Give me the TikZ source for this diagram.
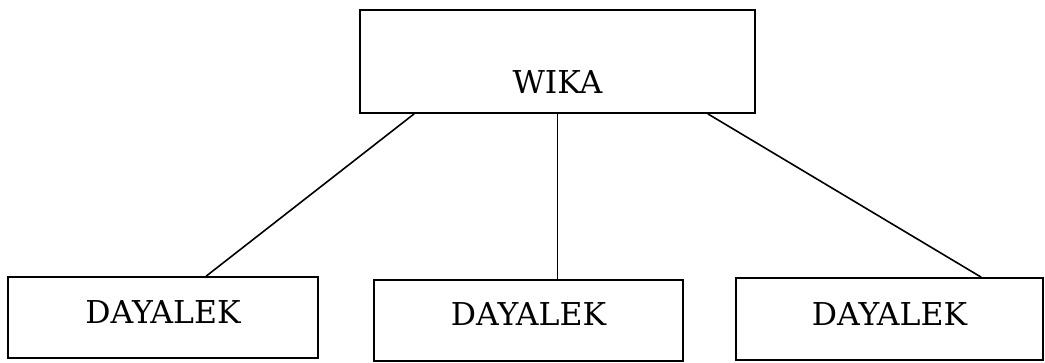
\documentclass[tikz,border=0pt]{standalone}
\usepackage{fontspec}
\setmainfont{DejaVu Serif}
\usetikzlibrary{calc}
\begin{document}
\begin{tikzpicture}[x=1pt,y=-1pt,
  box/.style={draw, line width=1.7pt, inner sep=0pt, anchor=base,
    font=\fontsize{31.5}{38}\selectfont},
  link/.style={line width=1.6pt}]
\useasboundingbox (0,0) rectangle (1045,362);
% top box
\node[box, minimum width=395pt, text height=83pt, text depth=20pt] (top) at (557.5,93) {WIKA};
% lower boxes
\node[box, minimum width=310pt, text height=46pt, text depth=35pt] (left) at (163,323) {DAYALEK};
\node[box, minimum width=309pt, text height=45pt, text depth=36pt] (mid) at (528.5,325) {DAYALEK};
\node[box, minimum width=307pt, text height=47pt, text depth=35pt] (right) at (889.5,325) {DAYALEK};
% connectors
\draw[link] ($(top.south west)+(55,0)$) -- ($(left.north west)+(199,0)$);
\draw[link] (top.south) -- (top.south |- mid.north);
\draw[link] ($(top.south east)+(-48,0)$) -- ($(right.north west)+(246,0)$);
\end{tikzpicture}
\end{document}
